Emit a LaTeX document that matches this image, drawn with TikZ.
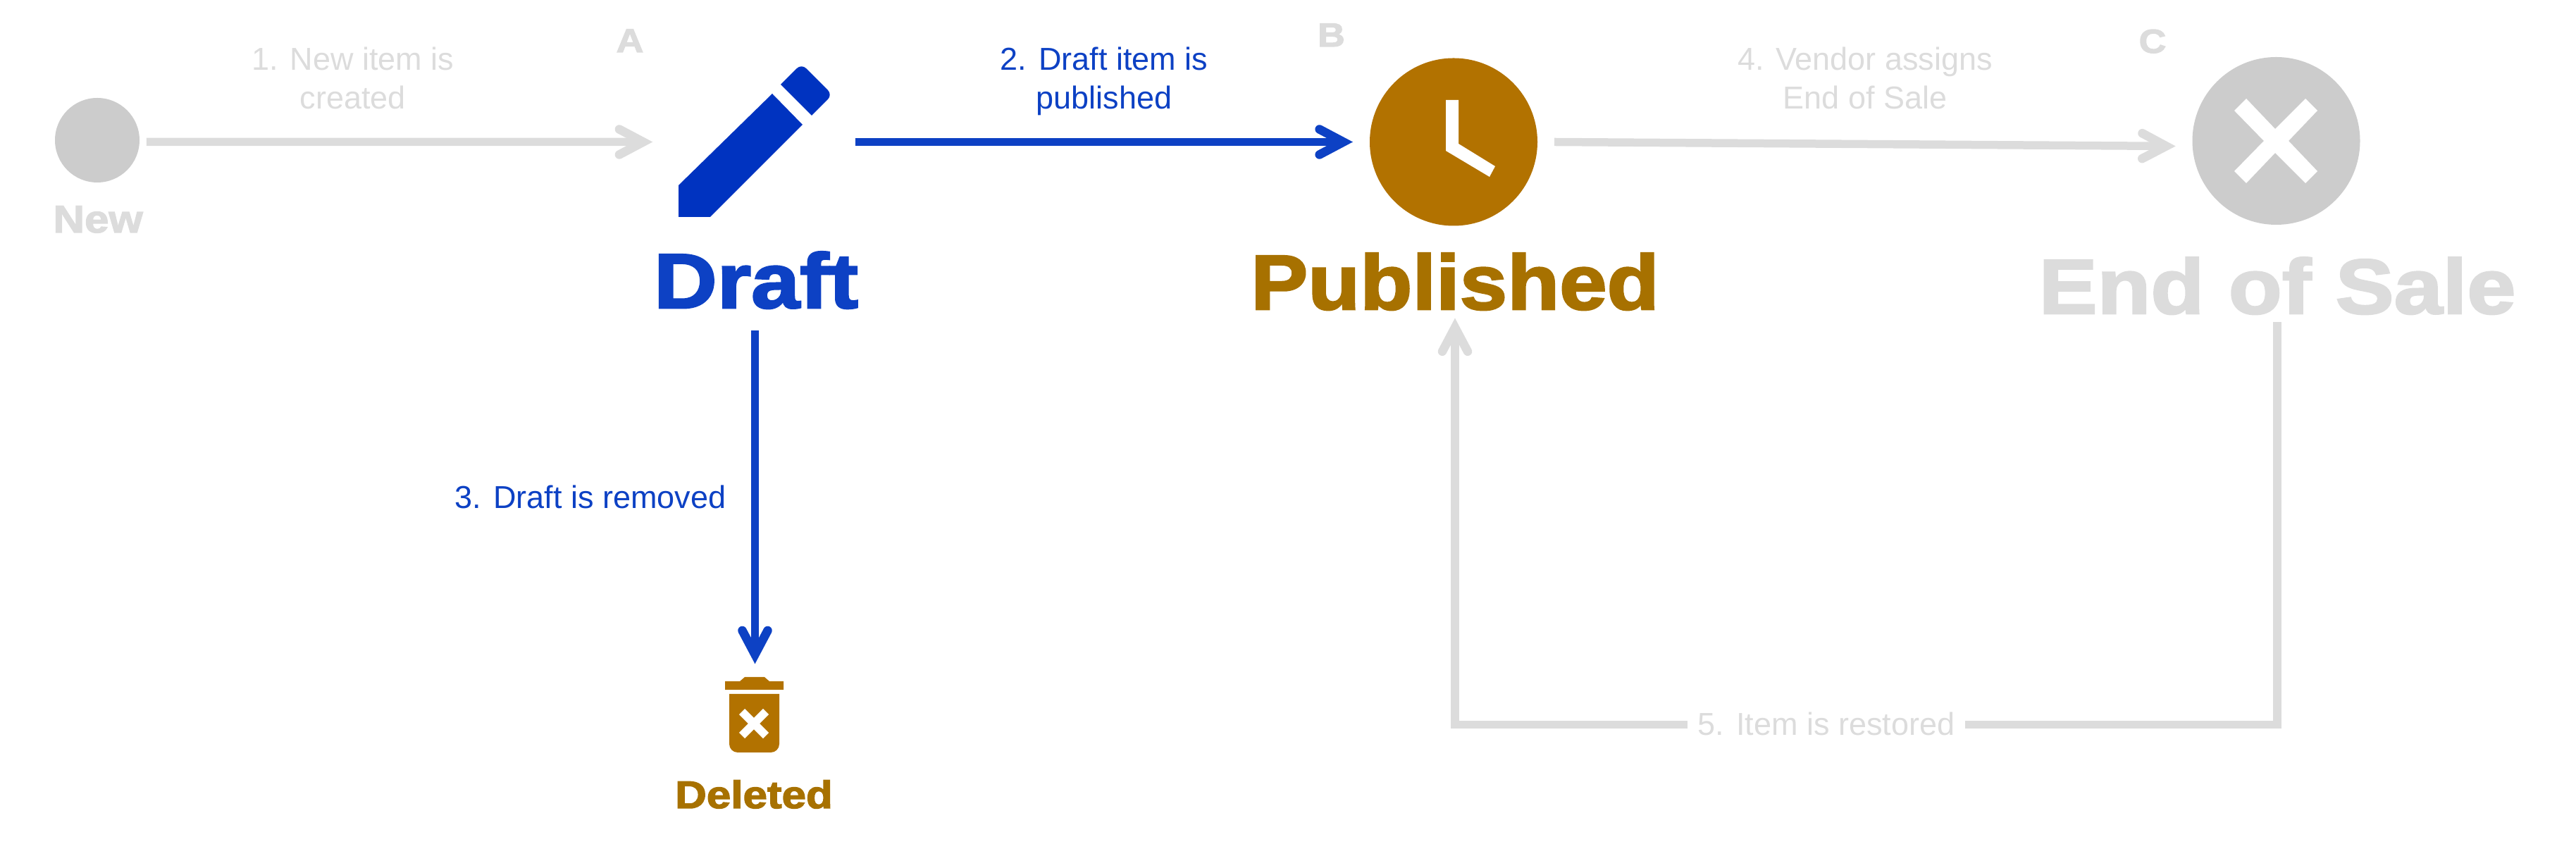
\documentclass[tikz,border=0pt]{standalone}
\usepackage{fontspec}
\usepackage{xcolor}
\usepackage{tikz}
\usetikzlibrary{arrows.meta, positioning}
\setmainfont{Liberation Sans}
\newfontfamily\heavyfont[FakeBold=2.5,FakeStretch=1.13]{Liberation Sans Bold}
\definecolor{inkblue}{RGB}{13,65,196}
\definecolor{penblue}{RGB}{0,51,192}
\definecolor{ochre}{RGB}{178,114,0}
\definecolor{ochretext}{RGB}{167,113,0}
\definecolor{mute}{RGB}{220,220,220}
\definecolor{mutefill}{RGB}{204,204,204}

\begin{document}
\begin{tikzpicture}[
    arrow/.style={line width=1.15mm, -{Straight Barb[length=3.4mm, width=3.6mm, line width=1.25mm, line cap=round]}},
    plain/.style={line width=1.15mm},
    dot/.style={circle, inner sep=0pt, minimum size=#1},
    iconbox/.style={rectangle, inner sep=0pt},
    caption/.style={font=\fontsize{12.8}{15.6}\selectfont, align=center, inner sep=0pt},
    title/.style={font=\heavyfont\fontsize{31.3}{36}\selectfont, anchor=base, inner sep=0pt, outer ysep=1.25mm, text depth=0pt},
    subtitle/.style={font=\heavyfont\fontsize{15.6}{18}\selectfont, anchor=base, inner sep=0pt, text depth=0pt},
    marker/.style={font=\heavyfont\fontsize{13.5}{16}\selectfont, anchor=base, inner sep=0pt, text=mute}
]
\useasboundingbox (0,0) rectangle (36.56,-12.05);

% New
\node[dot=1.2cm, fill=mutefill, outer sep=1mm] (new) at (1.38,-1.99) {};
\node[subtitle, text=mute] (newtext) at (1.39,-3.30) {New};

% Draft
\node[iconbox, minimum width=2.86cm, minimum height=2.14cm] (draft) at (10.70,-2.015) {};
\fill[penblue] (10.96,-1.33) -- (11.39,-1.77) -- (10.08,-3.08) -- (9.63,-3.08) -- (9.63,-2.63) -- cycle;
\fill[penblue] (11.08,-1.20) -- (11.31,-0.97) to[out=45,in=135] (11.44,-0.97) -- (11.75,-1.28) to[out=-45,in=45] (11.75,-1.41) -- (11.52,-1.64) -- cycle;
\node[title, text=inkblue, outer ysep=3.2mm] (drafttext) at (10.73,-4.37) {Draft};
\node[marker] (marka) at (8.94,-0.74) {A};

% Published
\node[dot=2.38cm, fill=ochre, outer sep=2.4mm] (published) at (20.63,-2.015) {};
\fill[white] (20.52,-1.42) -- (20.70,-1.42) -- (20.70,-2.04) -- (21.22,-2.36) -- (21.14,-2.51) -- (20.52,-2.14) -- cycle;
\node[title, text=ochretext] (pubtext) at (20.65,-4.39) {\scalebox{0.975}[1]{Published}};
\node[marker] (markb) at (18.895,-0.66) {B};

% End of Sale
\node[dot=2.38cm, fill=mutefill, outer sep=2.4mm] (eos) at (32.305,-2.00) {};
\fill[white] (31.88,-1.40) -- (31.71,-1.57) -- (32.13,-2.00) -- (31.71,-2.43) -- (31.88,-2.60) -- (32.29,-2.17)
    -- (32.72,-2.60) -- (32.89,-2.43) -- (32.48,-2.00) -- (32.89,-1.57) -- (32.72,-1.40) -- (32.29,-1.83) -- cycle;
\node[title, text=mute] (eostext) at (32.32,-4.45) {End of Sale};
\node[marker] (markc) at (30.55,-0.75) {C};

% Deleted
\node[iconbox, minimum width=0.83cm, minimum height=1.25cm] (deleted) at (10.715,-10.055) {};
\fill[ochre] (10.29,-9.67) -- (10.50,-9.67) -- (10.57,-9.61) -- (10.85,-9.61) -- (10.92,-9.67) -- (11.12,-9.67) -- (11.12,-9.79) -- (10.29,-9.79) -- cycle;
\fill[ochre] (10.35,-9.85) -- (11.06,-9.85) -- (11.06,-10.56) arc (0:-90:0.12) -- (10.47,-10.68) arc (270:180:0.12) -- cycle;
\draw[white, line width=1.15mm] (10.53,-10.10) -- (10.87,-10.44) (10.87,-10.10) -- (10.53,-10.44);
\node[subtitle, text=ochretext] (deltext) at (10.70,-11.47) {Deleted};

% Connections
\draw[arrow, mute] (new.-2) -- (draft.west);
\node[caption, text=mute, anchor=north] (step1) at (5.01,-0.66) {1. New item is\\created};
\draw[arrow, inkblue] (draft.east) -- (published.west);
\node[caption, text=inkblue, anchor=north] (step2) at (15.67,-0.66) {2. Draft item is\\published};
\draw[arrow, inkblue] (drafttext.south -| deleted.north) -- (deleted.north);
\node[caption, text=inkblue, anchor=base] (step3) at (8.38,-7.22) {3. Draft is removed};
\draw[arrow, mute] (published.east) -- (eos.183);
\node[caption, text=mute, anchor=north] (step4) at (26.47,-0.66) {4. Vendor assigns\\End of Sale};

% Restored loop
\node[caption, text=mute, anchor=base, minimum width=3.92cm] (step5) at (25.92,-10.44) {5. Item is restored};
\draw[plain, mute] (eostext.south) |- (step5.east |- 0,-10.285);
\draw[arrow, mute] (step5.west |- 0,-10.285) -| (pubtext.south);

\end{tikzpicture}
\end{document}
